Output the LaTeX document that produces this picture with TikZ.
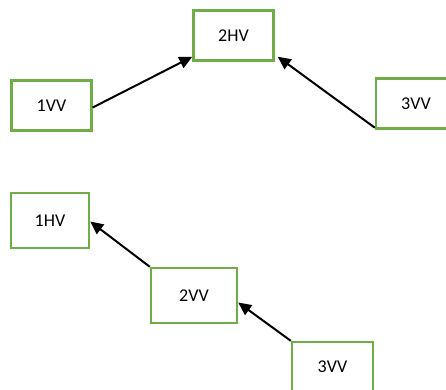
\documentclass[tikz,border=0pt]{standalone}
\usepackage{fontspec}
\setmainfont{Carlito}
\usetikzlibrary{arrows.meta}
\definecolor{boxgreen}{RGB}{112,173,71}
\begin{document}
\begin{tikzpicture}[x=1pt, y=-1pt]
    \tikzset{
      box/.style={rectangle, draw=boxgreen, line width=2.4pt, minimum width=80pt,
                  minimum height=50pt, inner sep=0pt, align=center,
                  font=\fontsize{18}{20}\selectfont},
      link/.style={-{Triangle[length=13pt, width=12pt]}, line width=2pt}
    }

    \clip (0,0) rectangle (446,389);
    \useasboundingbox (0,0) rectangle (446,389);

    % top group
    \node[box] (hv2) at (233.5, 35.5) {2HV};
    \node[box] (vv1) at (51.5, 105.5) {1VV};
    \node[box] (vv3) at (416, 103.5) {3VV};

    % bottom group
    \node[box, minimum width=78pt, minimum height=55pt] (hv1) at (50, 220.5) {1HV};
    \node[box, minimum width=86pt, minimum height=55pt] (vv2) at (194, 295.5) {2VV};
    \node[box, minimum width=81pt] (vv3b) at (332.5, 367) {3VV};

    % arrows
    \draw[link] ([yshift=-2pt]vv1.east) -- ([yshift=5pt]hv2.south west);
    \draw[link] ([yshift=2pt]vv3.south west) -- ([xshift=3pt, yshift=5pt]hv2.south east);
    \draw[link] (vv2.north west) -- ([yshift=-1pt]hv1.east);
    \draw[link] (vv3b.north west) -- ([yshift=-7pt]vv2.east);
  \end{tikzpicture}
\end{document}
